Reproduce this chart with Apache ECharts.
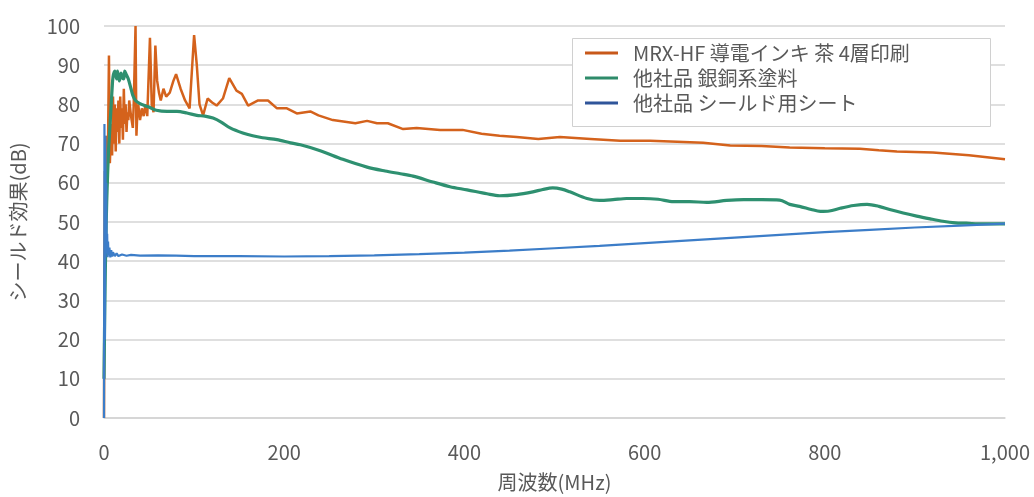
<!DOCTYPE html>
<html>
<head>
<meta charset="utf-8">
<script src="https://cdn.jsdelivr.net/npm/echarts@6/dist/echarts.min.js"></script>
<style>
html,body{margin:0;padding:0;background:#fff;}
#c{width:1034px;height:497px;}
</style>
</head>
<body>
<div id="c"></div>
<script>
// ---- data (frequency MHz, shielding dB) ----
const seriesNames = ['MRX-HF 導電インキ 茶 4層印刷', '他社品 銀銅系塗料', '他社品 シールド用シート'];
const xTicks = [0, 200, 400, 600, 800, 1000];
const yTicks = [0, 10, 20, 30, 40, 50, 60, 70, 80, 90, 100];

const mrxInk = [[0,0],[0.5,40],[1,63],[2,55],[3,72],[4,60],[5.5,92.5],[6.5,65],[8,75],[9,67],[10,82],[11,70],[12,80],[13,68],[14,79],[15,73],[16,81],[17,70],[18,82],[19,74],[20,79],[21,71],[22,84],[23,75],[24,80],[25,73],[26,78],[27,76],[28,81],[30,77],[32,74],[33,80],[35,100],[36,72],[37,78],[38,80],[40,76],[42,79],[44,77],[46,80],[48,77],[51,97],[53,80],[55,78],[57,95],[59,86],[61,83],[63,81],[66,84],[69,82],[73,83],[77,86],[80,87.7],[85,84],[90,81],[95,79],[100,97.7],[103,90],[106,80],[110,77.2],[115,81.5],[120,80.5],[125,79.7],[132,81.5],[139,86.7],[147,83.5],[153,82.7],[160,79.7],[171,81],[182,81],[192,79],[203,79],[214,77.7],[229,78.2],[238,77.2],[254,76],[279,75.2],[292,75.8],[303,75.2],[315,75.2],[332,73.7],[347,74],[373,73.5],[398,73.5],[419,72.5],[439,72],[458,71.7],[482,71.2],[506,71.7],[540,71.2],[573,70.7],[606,70.7],[636,70.5],[665,70.2],[695,69.5],[730,69.4],[761,69],[800,68.8],[839,68.7],[860,68.3],[880,68],[920,67.7],[960,67],[1000,66]];

const silverCopper = [[0,10],[1,30],[2,45],[3,55],[4,62],[5,68],[6,72],[7,76],[8,80],[9,84],[10,87],[12,88.5],[14,86.5],[15,88.5],[17,86],[19,88],[20,87],[22,86.5],[23,88.5],[25,87.5],[27,86.5],[30,84],[32,82.3],[35,81],[40,80.2],[45,79.7],[51,79.2],[58,78.5],[70,78.2],[81,78.2],[92,77.8],[103,77.2],[112,77],[121,76.5],[130,75.5],[140,74],[154,72.7],[165,72],[176,71.5],[192,71],[207,70.2],[218,69.7],[240,68.2],[265,66],[292,64],[312,63],[329,62.3],[343,61.7],[365,60.2],[384,59],[403,58.2],[425,57.2],[439,56.7],[458,57],[476,57.7],[487,58.3],[498,58.7],[508,58.4],[517,57.7],[536,56],[550,55.5],[565,55.7],[580,56],[598,56],[615,55.8],[632,55.2],[650,55.2],[669,55],[691,55.5],[710,55.7],[730,55.7],[750,55.6],[761,54.5],[772,54],[785,53.2],[795,52.7],[805,52.8],[817,53.5],[832,54.2],[847,54.5],[860,54],[872,53.2],[887,52.3],[902,51.5],[917,50.8],[931,50.2],[945,49.8],[957,49.7],[975,49.5],[1000,49.5]];

const shieldSheet = [[0,0],[0.5,75],[1,20],[1.5,72],[2,45],[2.5,60],[3,42],[3.5,47],[4,41],[4.5,45],[5,41.5],[6,43.5],[7,41],[8,42.8],[9,41.2],[10,42.3],[12,41.3],[14,42],[16,41.3],[20,41.7],[25,41.4],[30,41.6],[40,41.4],[60,41.5],[80,41.4],[100,41.3],[150,41.3],[200,41.2],[250,41.3],[300,41.5],[350,41.8],[400,42.2],[450,42.7],[500,43.3],[550,43.9],[600,44.6],[650,45.3],[700,46],[750,46.7],[800,47.4],[850,48],[900,48.6],[950,49.1],[1000,49.6]];

const lineColors = ['#D4621C', '#2E9070', '#3C7DC8'];
const legendColors = ['#C8581A', '#2E8B6A', '#2F559A'];
const seriesData = [mrxInk, silverCopper, shieldSheet];
const lineWidths = [2.5, 3.2, 2.2];
const smoothing = [false, 0.3, false];

const FONT = '"Noto Sans CJK JP", "Noto Sans", sans-serif';
const TXT = '#595959';

const chart = echarts.init(document.getElementById('c'), null, {renderer: 'canvas'});
chart.setOption({
  animation: false,
  backgroundColor: '#fff',
  textStyle: {fontFamily: FONT},
  grid: {left: 104, right: 29, top: 26, bottom: 71, containLabel: false},
  graphic: [{
    type: 'rect', left: 572, top: 38, silent: true, z: 5,
    shape: {width: 418, height: 88},
    style: {fill: '#fff', stroke: '#d0d0d0', lineWidth: 1}
  }],
  legend: {
    orient: 'vertical', left: 585, top: 43, padding: 0, z: 10,
    itemWidth: 33, itemHeight: 20, itemGap: 5,
    icon: 'path://M0,0H33V3H0Z',
    textStyle: {fontFamily: FONT, fontSize: 20, color: TXT, padding: [0, 0, 0, 10]},
    data: seriesNames.map((n, i) => ({name: n, itemStyle: {color: legendColors[i]}}))
  },
  xAxis: {
    type: 'value', min: xTicks[0], max: xTicks[xTicks.length - 1], interval: 200,
    name: '周波数(MHz)', nameLocation: 'middle', nameGap: 54,
    nameTextStyle: {fontFamily: FONT, fontSize: 20, color: TXT},
    axisLine: {show: true, lineStyle: {color: '#d4d4d4', width: 1.5}},
    axisTick: {show: false},
    splitLine: {show: false},
    axisLabel: {fontFamily: FONT, fontSize: 20, color: TXT, margin: 24,
      formatter: v => v.toLocaleString('en-US')}
  },
  yAxis: {
    type: 'value', min: yTicks[0], max: yTicks[yTicks.length - 1], interval: 10,
    name: 'シールド効果(dB)', nameLocation: 'middle', nameGap: 76, nameRotate: 90,
    nameTextStyle: {fontFamily: FONT, fontSize: 20, color: TXT},
    axisLine: {show: false}, axisTick: {show: false},
    splitLine: {show: true, lineStyle: {color: '#d4d4d4', width: 1.5}},
    axisLabel: {fontFamily: FONT, fontSize: 20, color: TXT, margin: 24}
  },
  series: seriesNames.map((n, i) => ({
    name: n, type: 'line', data: seriesData[i],
    showSymbol: false, symbol: 'none', smooth: smoothing[i],
    itemStyle: {color: legendColors[i]},
    lineStyle: {color: lineColors[i], width: lineWidths[i]},
    z: 2 + i
  }))
});
</script>
</body>
</html>
